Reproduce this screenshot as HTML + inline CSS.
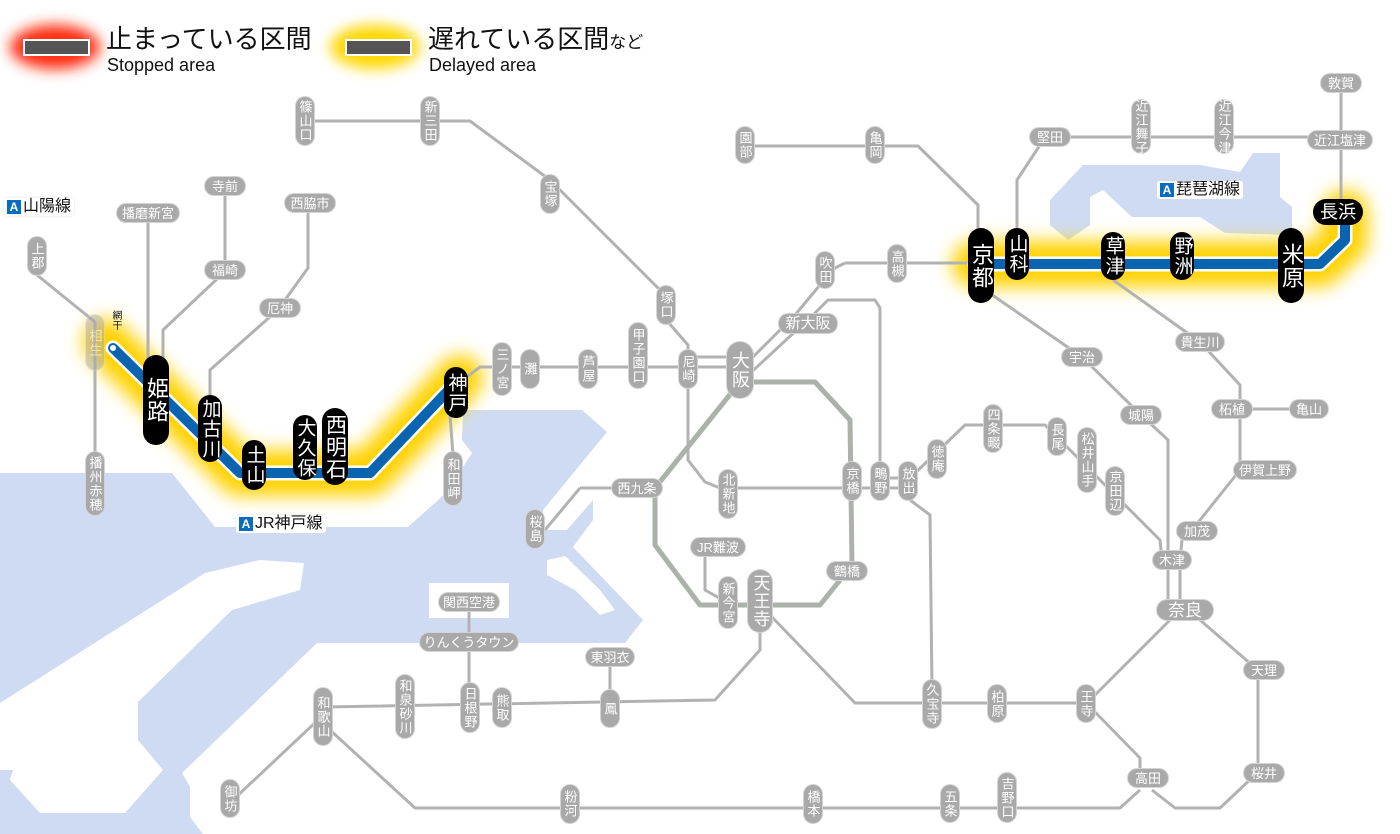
<!DOCTYPE html>
<html><head><meta charset="utf-8">
<style>
body{margin:0;width:1400px;height:834px;overflow:hidden;background:#fff;position:relative;font-family:"Liberation Sans","Noto Sans CJK JP",sans-serif}
svg{position:absolute;left:0;top:0}
.g{position:absolute;background:#a9a9a9;color:#fff;border-radius:9px;font-size:13px;display:flex;align-items:center;justify-content:center;line-height:1;box-shadow:0 0 0 1px #d4d4d4;white-space:nowrap;font-family:"Liberation Sans","Noto Sans CJK JP",sans-serif}
.v{writing-mode:vertical-rl;text-orientation:upright;letter-spacing:1px}
.b{background:#000;font-size:20px;border-radius:13px;box-shadow:none}
.t{position:absolute;font-size:16px;color:#111;background:#fff;border-radius:3px;padding:1px 3px;display:flex;align-items:center;line-height:1;box-shadow:0 0 2px #ddd}
.t i{display:inline-block;width:14px;height:14px;background:#0a6cc0;color:#fff;font-style:normal;font-size:12px;font-weight:bold;text-align:center;line-height:14px;margin-right:2px}
</style></head><body>
<svg width="1400" height="834" viewBox="0 0 1400 834">
<defs>
<filter id="bl" filterUnits="userSpaceOnUse" x="0" y="0" width="1400" height="834"><feGaussianBlur stdDeviation="9"/></filter>
<filter id="bl2" filterUnits="userSpaceOnUse" x="0" y="0" width="600" height="120"><feGaussianBlur stdDeviation="7"/></filter>
</defs>
<g fill="#cfdbf3">
<path d="M0,473 L172,473 L215,527 L408,527 L446,493 L472,453 L462,440 L463,410 L582,410 L607,432 L543,510 L543,530 L567,530 L593,500 L593,520 L573,547 L643,620 L625,643 L317,643 L182,773 L190,787 L190,817 L203,834 L0,834 Z"/>
<path d="M1050,200 L1083,165 L1200,165 L1240,172 L1253,153 L1280,153 L1280,197 L1292,207 L1292,235 L1225,233 L1200,217 L1132,217 L1103,190 L1090,197 L1090,225 L1068,240 L1050,225 Z"/>
</g>
<g fill="#fff">
<path d="M0,703 L205,573 L260,560 L304,563 L300,590 L232,610 L138,702 L138,740 L163,770 L125,813 L40,813 L10,780 L13,770 L0,770 Z"/>
<path d="M429,583 L509,583 L509,618 L429,618 Z"/>
<path d="M547,560 L565,556 L600,590 L615,610 L600,615 L575,590 L547,575 Z"/>
</g>
<g fill="none" stroke-linecap="round" stroke-linejoin="round" filter="url(#bl)">
<path d="M106,342 L240,473 L370,473 L460,378" stroke="#ffd200" stroke-width="46"/>
<path d="M975,264 L1320,264 L1345,240 L1345,213" stroke="#ffd200" stroke-width="46"/>
</g>
<g filter="url(#bl2)">
<ellipse cx="55" cy="47" rx="45" ry="22" fill="#ff2a10"/>
<ellipse cx="375" cy="47" rx="45" ry="22" fill="#ffd800"/>
</g>
<rect x="24" y="40" width="65" height="15" fill="#555" stroke="#fff" stroke-width="2"/>
<rect x="346" y="40" width="65" height="15" fill="#555" stroke="#fff" stroke-width="2"/>
<g fill="none" stroke="#b2b2b2" stroke-width="3" stroke-linejoin="round">
<path d="M37,275 L95,322 L95,455"/>
<path d="M148,222 L148,360"/>
<path d="M225,195 L225,262"/>
<path d="M218,278 L163,330 L163,360"/>
<path d="M308,212 L308,268 L285,300"/>
<path d="M272,315 L210,370 L210,398"/>
<path d="M305,121 L470,121 L550,180 L660,290 L668,310"/>
<path d="M668,322 L688,345 L688,460 L705,482 L720,488 L910,488"/>
<path d="M456,385 L480,367 L740,367"/>
<path d="M688,357 L740,357"/>
<path d="M450,415 L453,455"/>
<path d="M740,370 L795,315 L820,285"/>
<path d="M845,263 L980,263"/>
<path d="M820,285 L835,268 L845,263"/>
<path d="M745,378 L813,315 L828,300 L875,300 L880,308 L880,470"/>
<path d="M580,488 L620,488"/>
<path d="M580,488 L545,530"/>
<path d="M705,555 L705,590 L728,603"/>
<path d="M760,632 L760,650 L715,700 L323,707"/>
<path d="M610,666 L610,695"/>
<path d="M469,610 L469,690"/>
<path d="M318,720 L235,798"/>
<path d="M330,730 L415,808 L1120,808 L1140,790"/>
<path d="M770,615 L855,703 L1086,703"/>
<path d="M1095,695 L1172,618"/>
<path d="M1095,712 L1140,758 L1140,772"/>
<path d="M1152,790 L1175,808 L1220,808 L1255,775"/>
<path d="M1258,680 L1258,765"/>
<path d="M1200,620 L1252,665"/>
<path d="M910,500 L930,515 L932,690"/>
<path d="M910,478 L965,425 L1045,425 L1160,540 L1162,560"/>
<path d="M985,290 L1082,357 L1141,415 L1168,440 L1168,600"/>
<path d="M1180,560 L1180,600"/>
<path d="M1113,280 L1200,342 L1240,385 L1240,470 L1200,520 L1182,540 L1180,560"/>
<path d="M1240,409 L1308,409"/>
<path d="M745,146 L918,146 L978,205 L978,230"/>
<path d="M1017,230 L1017,180 L1040,145 L1050,137 L1340,137"/>
<path d="M1341,90 L1341,205"/>
<path d="M908,478 L880,478"/>
</g>
<g fill="none" stroke="#aab2aa" stroke-width="5" stroke-linejoin="round">
<path d="M740,382 L815,382 L850,420 L852,565 L820,605 L700,605 L655,545 L655,488 L740,382"/>
</g>
<g fill="none" stroke-linejoin="round" stroke-linecap="round">
<path d="M113,348 L240,473 L370,473 L460,378" stroke="#fff" stroke-width="15"/>
<path d="M113,348 L240,473 L370,473 L460,378" stroke="#0a64b0" stroke-width="10"/>
<path d="M975,264 L1320,264 L1345,240 L1345,213" stroke="#fff" stroke-width="15"/>
<path d="M975,264 L1320,264 L1345,240 L1345,213" stroke="#0a64b0" stroke-width="10"/>
</g>
<circle cx="113" cy="348" r="3" fill="#fff"/>
</svg>

<div style="position:absolute;left:106px;top:26px;font-size:26px;color:#111;line-height:1">止まっている区間</div>
<div style="position:absolute;left:107px;top:56px;font-size:18px;color:#111;line-height:1">Stopped area</div>
<div style="position:absolute;left:428px;top:26px;font-size:26px;color:#111;line-height:1">遅れている区間<span style="font-size:17px">など</span></div>
<div style="position:absolute;left:429px;top:56px;font-size:18px;color:#111;line-height:1">Delayed area</div>

<div class="t" style="left:4px;top:198px"><i>A</i>山陽線</div>
<div class="t" style="left:236px;top:515px"><i>A</i>JR神戸線</div>
<div class="t" style="left:1157px;top:181px"><i>A</i>琵琶湖線</div>

<div style="position:absolute;left:109px;top:310px;font-size:10px;line-height:11px;width:12px;color:#111;text-align:center;writing-mode:vertical-rl;text-orientation:upright">網干</div>

<div class="g v" style="left:296px;top:97px;width:18px;height:48px">篠山口</div>
<div class="g v" style="left:421px;top:97px;width:18px;height:48px">新三田</div>
<div class="g v" style="left:541px;top:175px;width:18px;height:38px">宝塚</div>
<div class="g v" style="left:657px;top:286px;width:18px;height:38px">塚口</div>
<div class="g v" style="left:736px;top:127px;width:18px;height:36px">園部</div>
<div class="g v" style="left:866px;top:127px;width:18px;height:36px">亀岡</div>
<div class="g v" style="left:816px;top:252px;width:18px;height:36px">吹田</div>
<div class="g v" style="left:888px;top:245px;width:18px;height:37px">高槻</div>
<div class="g v" style="left:28px;top:237px;width:18px;height:38px">上郡</div>
<div class="g v" style="left:86px;top:315px;width:18px;height:55px;opacity:.5">相生</div>
<div class="g v" style="left:86px;top:452px;width:18px;height:63px">播州赤穂</div>
<div class="g v" style="left:493px;top:343px;width:18px;height:52px">三ノ宮</div>
<div class="g v" style="left:521px;top:350px;width:18px;height:38px">灘</div>
<div class="g v" style="left:579px;top:350px;width:18px;height:38px">芦屋</div>
<div class="g v" style="left:629px;top:323px;width:18px;height:65px">甲子園口</div>
<div class="g v" style="left:679px;top:350px;width:18px;height:38px">尼崎</div>
<div class="g v" style="left:444px;top:452px;width:18px;height:53px">和田岬</div>
<div class="g v" style="left:719px;top:470px;width:18px;height:48px">北新地</div>
<div class="g v" style="left:843px;top:462px;width:18px;height:38px">京橋</div>
<div class="g v" style="left:871px;top:462px;width:18px;height:38px">鴫野</div>
<div class="g v" style="left:899px;top:462px;width:18px;height:38px">放出</div>
<div class="g v" style="left:928px;top:440px;width:18px;height:38px">徳庵</div>
<div class="g v" style="left:984px;top:405px;width:18px;height:47px">四条畷</div>
<div class="g v" style="left:1048px;top:418px;width:18px;height:37px">長尾</div>
<div class="g v" style="left:1078px;top:428px;width:18px;height:64px">松井山手</div>
<div class="g v" style="left:1106px;top:467px;width:18px;height:48px">京田辺</div>
<div class="g v" style="left:526px;top:510px;width:18px;height:38px">桜島</div>
<div class="g v" style="left:719px;top:577px;width:18px;height:51px">新今宮</div>
<div class="g v" style="left:314px;top:688px;width:18px;height:57px">和歌山</div>
<div class="g v" style="left:396px;top:675px;width:18px;height:63px">和泉砂川</div>
<div class="g v" style="left:461px;top:683px;width:18px;height:49px">日根野</div>
<div class="g v" style="left:493px;top:688px;width:18px;height:39px">熊取</div>
<div class="g v" style="left:601px;top:690px;width:18px;height:37px">鳳</div>
<div class="g v" style="left:221px;top:780px;width:18px;height:37px">御坊</div>
<div class="g v" style="left:561px;top:785px;width:18px;height:38px">粉河</div>
<div class="g v" style="left:804px;top:785px;width:18px;height:38px">橋本</div>
<div class="g v" style="left:941px;top:785px;width:18px;height:37px">五条</div>
<div class="g v" style="left:998px;top:773px;width:18px;height:49px">吉野口</div>
<div class="g v" style="left:923px;top:680px;width:18px;height:48px">久宝寺</div>
<div class="g v" style="left:988px;top:685px;width:18px;height:37px">柏原</div>
<div class="g v" style="left:1077px;top:685px;width:18px;height:37px">王寺</div>
<div class="g v" style="left:1132px;top:100px;width:18px;height:53px">近江舞子</div>
<div class="g v" style="left:1215px;top:100px;width:18px;height:53px">近江今津</div>
<div class="g v" style="left:727px;top:342px;width:26px;height:56px;font-size:18px;border-radius:13px">大阪</div>
<div class="g v" style="left:748px;top:570px;width:24px;height:62px;font-size:17px;border-radius:12px">天王寺</div>

<div class="g" style="left:117px;top:204px;width:62px;height:18px">播磨新宮</div>
<div class="g" style="left:205px;top:177px;width:40px;height:18px">寺前</div>
<div class="g" style="left:285px;top:194px;width:50px;height:18px">西脇市</div>
<div class="g" style="left:205px;top:261px;width:40px;height:18px">福崎</div>
<div class="g" style="left:260px;top:299px;width:40px;height:18px">厄神</div>
<div class="g" style="left:779px;top:314px;width:58px;height:19px;font-size:15px">新大阪</div>
<div class="g" style="left:612px;top:479px;width:50px;height:18px">西九条</div>
<div class="g" style="left:691px;top:538px;width:54px;height:18px">JR難波</div>
<div class="g" style="left:827px;top:562px;width:40px;height:18px">鶴橋</div>
<div class="g" style="left:439px;top:593px;width:60px;height:18px">関西空港</div>
<div class="g" style="left:420px;top:633px;width:98px;height:18px">りんくうタウン</div>
<div class="g" style="left:586px;top:648px;width:48px;height:18px">東羽衣</div>
<div class="g" style="left:1062px;top:348px;width:40px;height:18px">宇治</div>
<div class="g" style="left:1121px;top:406px;width:40px;height:18px">城陽</div>
<div class="g" style="left:1176px;top:333px;width:48px;height:18px">貴生川</div>
<div class="g" style="left:1212px;top:400px;width:40px;height:18px">柘植</div>
<div class="g" style="left:1290px;top:400px;width:38px;height:18px">亀山</div>
<div class="g" style="left:1234px;top:461px;width:62px;height:18px">伊賀上野</div>
<div class="g" style="left:1177px;top:522px;width:40px;height:18px">加茂</div>
<div class="g" style="left:1153px;top:551px;width:38px;height:18px">木津</div>
<div class="g" style="left:1157px;top:600px;width:56px;height:20px;font-size:17px;border-radius:10px">奈良</div>
<div class="g" style="left:1244px;top:661px;width:40px;height:18px">天理</div>
<div class="g" style="left:1244px;top:764px;width:40px;height:18px">桜井</div>
<div class="g" style="left:1128px;top:769px;width:40px;height:18px">高田</div>
<div class="g" style="left:1030px;top:128px;width:40px;height:18px">堅田</div>
<div class="g" style="left:1321px;top:74px;width:40px;height:18px">敦賀</div>
<div class="g" style="left:1308px;top:131px;width:64px;height:18px">近江塩津</div>

<div class="g v b" style="left:143px;top:355px;width:26px;height:90px;font-size:22px">姫路</div>
<div class="g v b" style="left:198px;top:395px;width:24px;height:67px;font-size:19px">加古川</div>
<div class="g v b" style="left:242px;top:440px;width:24px;height:50px;font-size:19px">土山</div>
<div class="g v b" style="left:293px;top:415px;width:24px;height:65px;font-size:19px">大久保</div>
<div class="g v b" style="left:322px;top:408px;width:26px;height:77px;font-size:21px">西明石</div>
<div class="g v b" style="left:444px;top:367px;width:24px;height:51px;font-size:19px">神戸</div>
<div class="g v b" style="left:968px;top:228px;width:26px;height:75px;font-size:22px">京都</div>
<div class="g v b" style="left:1005px;top:228px;width:24px;height:52px;font-size:19px">山科</div>
<div class="g v b" style="left:1101px;top:232px;width:24px;height:48px;font-size:19px">草津</div>
<div class="g v b" style="left:1170px;top:232px;width:24px;height:48px;font-size:19px">野洲</div>
<div class="g v b" style="left:1278px;top:228px;width:26px;height:75px;font-size:22px">米原</div>
<div class="g b" style="left:1313px;top:199px;width:50px;height:26px;font-size:18px">長浜</div>
</body></html>
